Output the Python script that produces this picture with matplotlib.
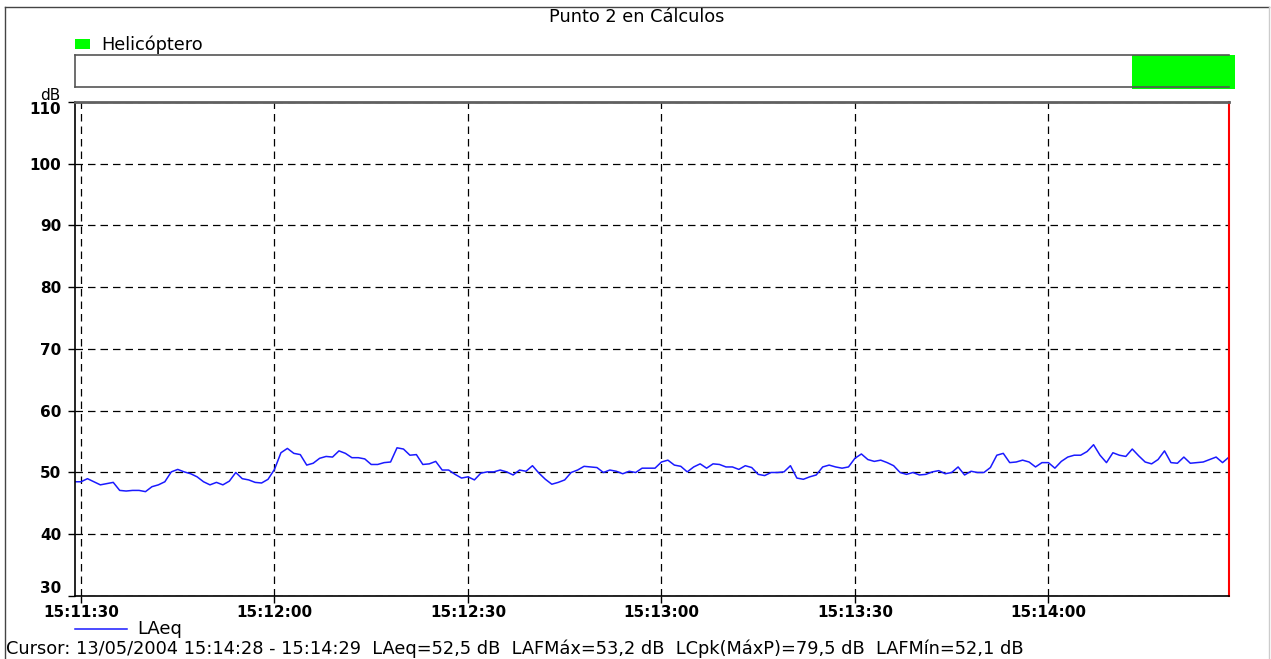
import matplotlib.pyplot as plt
from matplotlib.lines import Line2D
from matplotlib.patches import Rectangle

# datos (LAeq cada segundo)
t_inicio = "15:11:29"
laeq = [48.5, 48.5, 49.0, 48.5, 48.0, 48.2, 48.4, 47.1, 47.0, 47.1,
        47.1, 46.9, 47.7, 48.0, 48.5, 50.1, 50.5, 50.1, 49.8, 49.3,
        48.5, 48.0, 48.4, 48.0, 48.6, 50.0, 49.0, 48.8, 48.4, 48.3,
        48.9, 50.5, 53.2, 53.9, 53.1, 52.9, 51.2, 51.5, 52.3, 52.6,
        52.5, 53.5, 53.1, 52.4, 52.4, 52.2, 51.3, 51.3, 51.6, 51.7,
        54.0, 53.8, 52.8, 52.9, 51.3, 51.4, 51.8, 50.4, 50.4, 49.7,
        49.1, 49.3, 48.8, 49.9, 50.1, 50.1, 50.4, 50.1, 49.6, 50.4,
        50.2, 51.1, 49.9, 48.9, 48.1, 48.4, 48.8, 50.0, 50.4, 51.0,
        50.9, 50.8, 50.0, 50.4, 50.2, 49.8, 50.2, 50.0, 50.7, 50.7,
        50.7, 51.7, 52.0, 51.2, 51.0, 50.1, 50.9, 51.4, 50.7, 51.4,
        51.3, 50.9, 50.9, 50.5, 51.1, 50.8, 49.7, 49.5, 50.0, 50.0,
        50.1, 51.1, 49.1, 48.9, 49.3, 49.6, 50.9, 51.2, 50.9, 50.7,
        50.9, 52.3, 53.0, 52.1, 51.8, 52.0, 51.6, 51.1, 50.0, 49.7,
        50.0, 49.6, 49.7, 50.1, 50.3, 49.8, 50.0, 50.9, 49.6, 50.2,
        50.0, 50.0, 50.8, 52.8, 53.1, 51.6, 51.7, 52.0, 51.7, 50.9,
        51.6, 51.6, 50.7, 51.8, 52.5, 52.8, 52.8, 53.4, 54.5, 52.8,
        51.6, 53.2, 52.8, 52.6, 53.8, 52.7, 51.7, 51.4, 52.1, 53.5,
        51.6, 51.5, 52.5, 51.5, 51.6, 51.7, 52.1, 52.5, 51.6, 52.5]
x_ticks = ["15:11:30", "15:12:00", "15:12:30", "15:13:00", "15:13:30", "15:14:00"]
y_ticks = [30, 40, 50, 60, 70, 80, 90, 100, 110]
heli_desde = "15:14:13"
heli_hasta = "15:14:29"
cursor = "15:14:28"
texto_cursor = ("Cursor: 13/05/2004 15:14:28 - 15:14:29  LAeq=52,5 dB  LAFMáx=53,2 dB"
                "  LCpk(MáxP)=79,5 dB  LAFMín=52,1 dB")


def secs(hms):
    h, m, s = [int(v) for v in hms.split(':')]
    return h * 3600 + m * 60 + s


W, H = 1271, 659
plt.rcParams['font.family'] = ['DejaVu Sans']
fig = plt.figure(figsize=(W / 100, H / 100), dpi=100)


def px_axes(l, t, r, b):
    return fig.add_axes([l / W, 1 - b / H, (r - l) / W, (b - t) / H])


def fx(x):
    return x / W


def fy(y):
    return 1 - y / H


t = [secs(t_inicio) + i for i in range(len(laeq))]
x0 = secs(x_ticks[0]) - 0.93
x1 = secs(cursor)

# marco exterior
fig.add_artist(Line2D([fx(5), fx(5)], [fy(7), 0], color='#444444', lw=1))
fig.add_artist(Line2D([fx(5), fx(1269)], [fy(7), fy(7)], color='#444444', lw=1))
fig.add_artist(Line2D([fx(1269), fx(1269)], [fy(7), 0], color='#cccccc', lw=1))

fig.text(fx(637), fy(17), "Punto 2 en Cálculos", ha='center', va='center', fontsize=12.8)

# leyenda del evento
fig.add_artist(Rectangle((fx(75), fy(49)), fx(15), 10 / H, color='#00ff00', lw=0))
fig.text(fx(101), fy(45), "Helicóptero", ha='left', va='center', fontsize=12.8)

# franja de eventos
sx = px_axes(75, 55, 1229, 87)
sx.set_xlim(x0, x1)
sx.set_ylim(0, 1)
sx.axvspan(secs(heli_desde), secs(heli_hasta), ymin=-0.05, ymax=1, color='#00ff00',
           lw=0, clip_on=False)
sx.set_xticks([])
sx.set_yticks([])
for s in sx.spines.values():
    s.set_color('#555555')
    s.set_linewidth(1.2)
sx.spines['right'].set_visible(False)

# grafico principal
ax = px_axes(75, 102, 1229, 596)
ax.plot(t, laeq, color='#1a1aff', lw=1.1)
ax.set_xlim(x0, x1)
ax.set_ylim(30, 110)
ax.set_xticks([secs(v) for v in x_ticks])
ax.set_xticklabels(x_ticks, fontweight='bold', fontsize=11)
ax.set_yticks(y_ticks)
ax.set_yticklabels([str(v) for v in y_ticks], fontweight='bold', fontsize=11)
labs = ax.get_yticklabels()
labs[0].set_va('bottom')
labs[-1].set_va('top')
ax.tick_params(axis='both', direction='out', length=5, width=1, colors='black')
ax.tick_params(axis='x', pad=1.5)
ax.tick_params(axis='y', pad=5)
ax.grid(True, color='black', linestyle=(0, (6, 4)), lw=0.9)
ax.spines['top'].set_color('#606060')
ax.spines['top'].set_linewidth(2)
ax.spines['right'].set_color('red')
ax.spines['right'].set_linewidth(1.5)
ax.spines['left'].set_linewidth(1.2)
ax.spines['bottom'].set_linewidth(1.2)

fig.text(fx(60), fy(95), "dB", ha='right', va='center', fontsize=11)

# leyenda de la serie
fig.add_artist(Line2D([fx(75), fx(127)], [fy(629), fy(629)], color='#1a1aff', lw=1.1))
fig.text(fx(137), fy(629), "LAeq", ha='left', va='center', fontsize=13)

fig.text(fx(6), fy(649), texto_cursor, ha='left', va='center', fontsize=12.8)

fig.savefig('out.png', dpi=100)
